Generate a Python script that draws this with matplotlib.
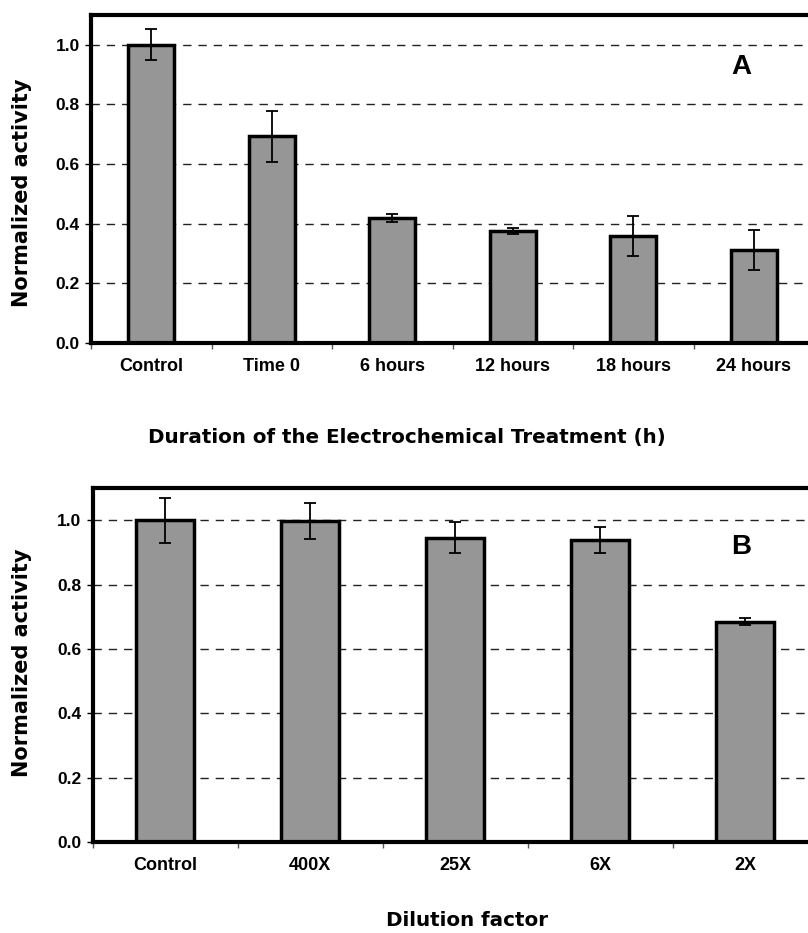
import matplotlib
matplotlib.use("Agg")
import matplotlib.pyplot as plt
import numpy as np

# Panel A data
cats_a = ["Control", "Time 0", "6 hours", "12 hours", "18 hours", "24 hours"]
vals_a = [1.0, 0.692, 0.420, 0.376, 0.358, 0.311]
errs_a = [0.052, 0.085, 0.013, 0.010, 0.067, 0.067]
xlabel_a = "Duration of the Electrochemical Treatment (h)"

# Panel B data
cats_b = ["Control", "400X", "25X", "6X", "2X"]
vals_b = [1.0, 0.996, 0.945, 0.939, 0.685]
errs_b = [0.070, 0.056, 0.048, 0.040, 0.010]
xlabel_b = "Dilution factor"

yticks = [0.0, 0.2, 0.4, 0.6, 0.8, 1.0]

plt.rcParams['font.family'] = ['Liberation Sans', 'DejaVu Sans']

W, H = 808, 933
fig = plt.figure(figsize=(W / 100, H / 100), dpi=100)

def panel(rect, cats, vals, errs, xlabel, letter, bw, xright, xlab_pos, ylab_pos, letter_pos):
    ax = fig.add_axes(rect)
    x = np.arange(len(cats))
    ax.set_axisbelow(True)
    ax.yaxis.grid(True, linestyle=(0, (6, 5)), color='#222222', linewidth=1.0)
    ax.bar(x, vals, width=bw, color='#969696', edgecolor='black', linewidth=2.5, zorder=2)
    ax.errorbar(x, vals, yerr=errs, fmt='none', ecolor='black', elinewidth=1.3,
                capsize=4.5, capthick=1.3, zorder=3)
    ax.set_xlim(-0.5, xright)
    ax.set_ylim(0, 1.1)
    ax.set_yticks(yticks)
    ax.set_yticklabels([f"{v:.1f}" for v in yticks], fontsize=12.5, fontweight='bold')
    ax.set_xticks(x)
    ax.set_xticklabels(cats, fontsize=13, fontweight='bold')
    ax.set_xticks(np.arange(len(cats) + 1) - 0.5, minor=True)
    ax.tick_params(axis='x', which='major', length=0, pad=11)
    ax.tick_params(axis='x', which='minor', length=4, width=1, color='#555555')
    ax.tick_params(axis='y', which='major', length=4, width=1, pad=4)
    for s in ['top', 'bottom', 'left']:
        ax.spines[s].set_linewidth(3)
    ax.spines['right'].set_visible(False)
    fig.text(ylab_pos[0] / W, 1 - ylab_pos[1] / H, "Normalized activity", rotation=90,
             fontsize=15, fontweight='bold', family='DejaVu Sans', ha='center', va='center')
    fig.text(xlab_pos[0] / W, 1 - xlab_pos[1] / H, xlabel,
             fontsize=14.3, fontweight='bold', family='DejaVu Sans', ha='center', va='center')
    fig.text(letter_pos[0] / W, 1 - letter_pos[1] / H, letter,
             fontsize=20, fontweight='bold', ha='center', va='center')
    return ax

panel([91 / W, 1 - 343 / H, 6 * 120.5 / W, (343 - 14.7) / H], cats_a, vals_a, errs_a,
      xlabel_a, "A", 0.38, 5.45, (407, 437), (22, 193), (741, 67))
panel([92.5 / W, 1 - 842 / H, 5 * 145 / W, (842 - 488) / H], cats_b, vals_b, errs_b,
      xlabel_b, "B", 0.40, 4.43, (467, 921), (22, 663), (741, 547))

fig.savefig("out.png", dpi=100)
